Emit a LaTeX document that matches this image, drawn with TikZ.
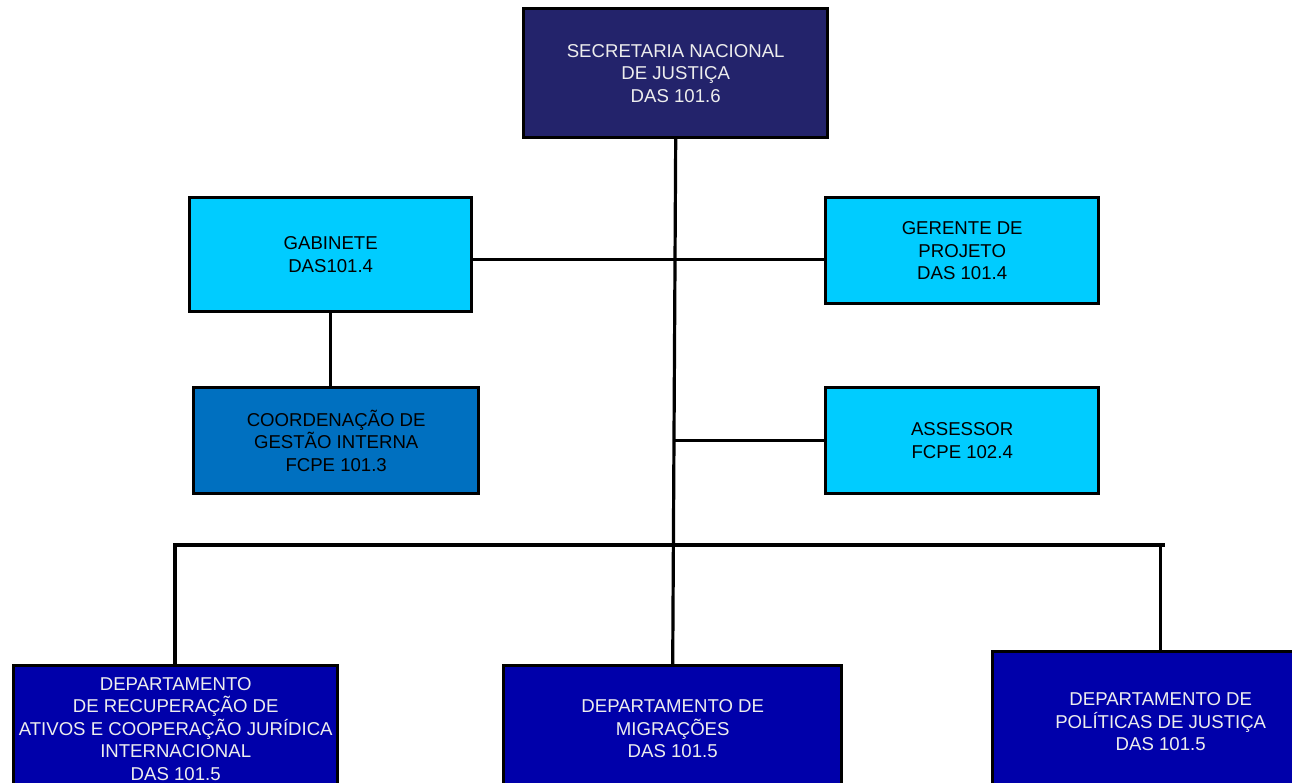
\documentclass[tikz,border=0pt]{standalone}
\usepackage{fontspec}
\setmainfont{Liberation Sans}
\definecolor{secblue}{HTML}{23236B}
\definecolor{lightcyan}{HTML}{00CCFF}
\definecolor{midblue}{HTML}{0070C0}
\definecolor{depblue}{HTML}{0000AA}
\tikzset{
    orgbox/.style={draw=black, line width=3.4pt, anchor=north west, align=center,
        font=\fontsize{18.6}{22.5}\selectfont, inner sep=2pt},
    darkbox/.style={orgbox, text=white!93!black},
    lightbox/.style={orgbox, text=black},
    link/.style={line width=3.2pt, line cap=rect}
}
\begin{document}
\begin{tikzpicture}[x=1pt, y=-1pt]
    \useasboundingbox (0,0) rectangle (1292,783);
    % top
    \node [darkbox, fill=secblue, minimum width=304pt, minimum height=129pt] (sec) at (522,7)
        {SECRETARIA NACIONAL\\DE JUSTIÇA\\DAS 101.6};
    % staff
    \node [lightbox, fill=lightcyan, minimum width=282pt, minimum height=114pt] (gab) at (188,196)
        {GABINETE\\DAS101.4};
    \node [lightbox, fill=lightcyan, minimum width=273pt, minimum height=106pt] (ger) at (824,196)
        {GERENTE DE\\PROJETO\\DAS 101.4};
    \node [lightbox, fill=midblue, minimum width=285pt, minimum height=106pt] (coo) at (192,386)
        {COORDENAÇÃO DE\\GESTÃO INTERNA\\FCPE 101.3};
    \node [lightbox, fill=lightcyan, minimum width=273pt, minimum height=106pt] (ass) at (824,386)
        {ASSESSOR\\FCPE 102.4};
    % departments
    \node [darkbox, fill=depblue, minimum width=324pt, minimum height=126pt] (dep1) at (12,664)
        {DEPARTAMENTO\\DE RECUPERAÇÃO DE\\ATIVOS E COOPERAÇÃO JURÍDICA\\INTERNACIONAL\\DAS 101.5};
    \node [darkbox, fill=depblue, minimum width=338pt, minimum height=126pt] (dep2) at (502,664)
        {DEPARTAMENTO DE\\MIGRAÇÕES\\DAS 101.5};
    \node [darkbox, fill=depblue, minimum width=336pt, minimum height=140pt] (dep3) at (991,650)
        {DEPARTAMENTO DE\\POLÍTICAS DE JUSTIÇA\\DAS 101.5};
    % links
    \coordinate (busl) at (175,545);
    \coordinate (busr) at (1163,545);
    \draw [link] (sec.south) -- (dep2.north);
    \draw [link] ([yshift=-5pt]gab.east) -- ([yshift=-5pt]gab.east -| ger.west);
    \draw [link] (gab.south) -- (gab.south |- coo.north);
    \draw [link] (ass.west -| sec.south) -- (ass.west);
    \draw [link] (busl) -- (busr);
    \draw [link] (busl) -- (busl |- dep1.north);
    \draw [link] (dep3.north |- busr) -- (dep3.north);
\end{tikzpicture}
\end{document}
